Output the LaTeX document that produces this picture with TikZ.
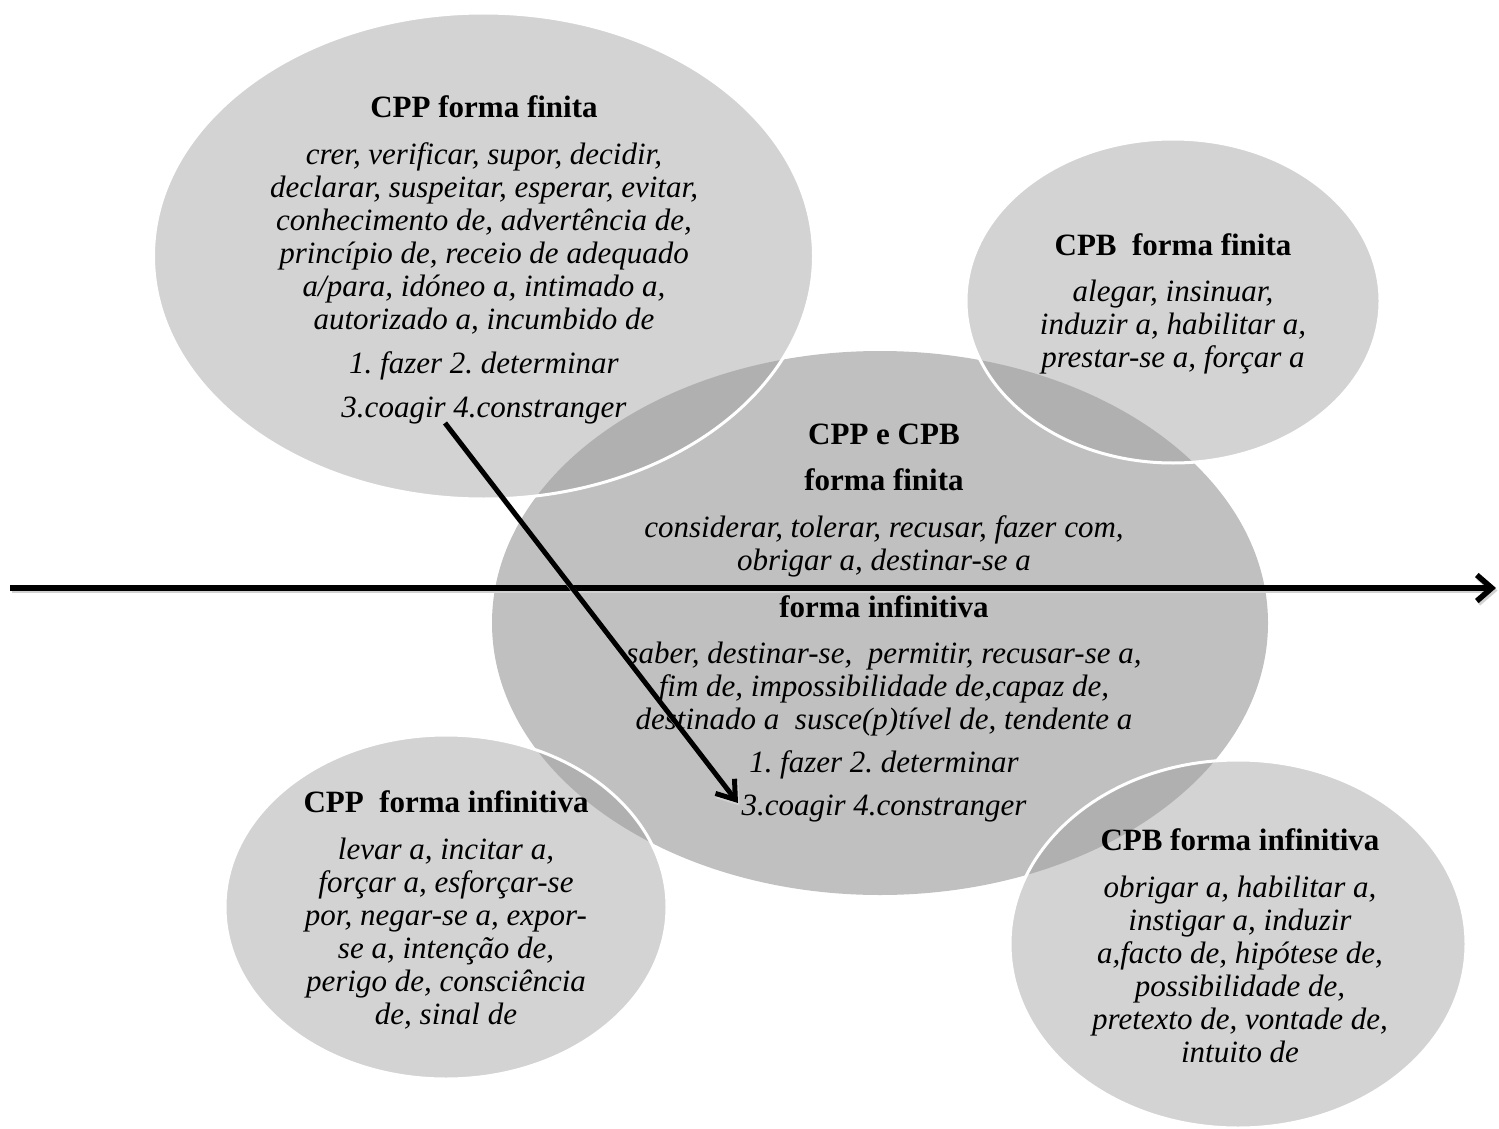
\documentclass[tikz,border=0pt]{standalone}
\usepackage{fontspec}
\setmainfont{Liberation Serif}
\usetikzlibrary{arrows.meta}
\definecolor{ovalout}{RGB}{211,211,211}
\definecolor{ovalmid}{RGB}{192,192,192}
\definecolor{ovalboth}{RGB}{176,176,176}
\newcommand\hd[1]{{\upshape\bfseries #1}}
\frenchspacing

\begin{document}
\begin{tikzpicture}[
  x=1pt, y=-1pt,
  txt/.style={align=center, inner sep=0pt, font=\fontsize{31}{33}\selectfont\itshape},
  shade/.style={preaction={draw, black!18, line width=#1, transform canvas={xshift=1.5pt, yshift=-2.5pt}}},
  axis/.style={-{Straight Barb[length=15pt,width=26pt]}, line width=5.5pt, shade=5.5pt},
  link/.style={-{Straight Barb[length=17pt,width=24pt]}, line width=5pt, shade=5pt}]
\useasboundingbox (0,0) rectangle (1499,1129);

% middle oval
\fill[ovalmid] (880,623) ellipse [x radius=388pt, y radius=272pt];

% the four outer ovals, darker where they meet the middle one
\foreach \cx/\cy/\rx/\ry in {483.5/256/330/243, 1173/301/207/162, 446/907/221/172, 1238/944/228/184}{
  \fill[ovalout] (\cx,\cy) ellipse [x radius=\rx pt, y radius=\ry pt];
  \begin{scope}
    \clip (880,623) ellipse [x radius=388pt, y radius=272pt];
    \fill[ovalboth] (\cx,\cy) ellipse [x radius=\rx pt, y radius=\ry pt];
  \end{scope}
  \draw[white, line width=3pt] (\cx,\cy) ellipse [x radius=\rx pt, y radius=\ry pt];
}

% texts
\node[txt] (ppfin) at (484,260) {\hd{CPP forma finita}\\[14pt]
  crer, verificar, supor, decidir,\\
  declarar, suspeitar, esperar, evitar,\\
  conhecimento de, advertência de,\\
  princípio de, receio de adequado\\
  a/para, idóneo a, intimado a,\\
  autorizado a, incumbido de\\[11pt]
  1. fazer 2. determinar\\[11pt]
  3.coagir 4.constranger};
\node[txt] (pbfin) at (1173,304) {\hd{CPB~~forma finita}\\[13pt]
  alegar, insinuar,\\
  induzir a, habilitar a,\\
  prestar-se a, forçar a};
\node[txt] (both) at (884,623) {\hd{CPP e CPB}\\[13pt]
  \hd{forma finita}\\[14pt]
  considerar, tolerar, recusar, fazer com,\\
  obrigar a, destinar-se a\\[14pt]
  \hd{forma infinitiva}\\[13pt]
  saber, destinar-se,~~permitir, recusar-se a,\\
  fim de, impossibilidade de,capaz de,\\
  destinado a~~susce(p)tível de, tendente a\\[10pt]
  1. fazer 2. determinar\\[10pt]
  3.coagir 4.constranger};
\node[txt] (ppinf) at (446,910) {\hd{CPP~~forma infinitiva}\\[14pt]
  levar a, incitar a,\\
  forçar a, esforçar-se\\
  por, negar-se a, expor-\\
  se a, intenção de,\\
  perigo de, consciência\\
  de, sinal de};
\node[txt] (pbinf) at (1240,946) {\hd{CPB forma infinitiva}\\[14pt]
  obrigar a, habilitar a,\\
  instigar a, induzir\\
  a,facto de, hipótese de,\\
  possibilidade de,\\
  pretexto de, vontade de,\\
  intuito de};

% arrows
\coordinate (axL) at (10,588);
\coordinate (axR) at (1496,588);
\coordinate (src) at (445,423);
\coordinate (dst) at (738,803);
\draw[axis] (axL) -- (axR);
\draw[link] (src) -- (dst);

\end{tikzpicture}
\end{document}
